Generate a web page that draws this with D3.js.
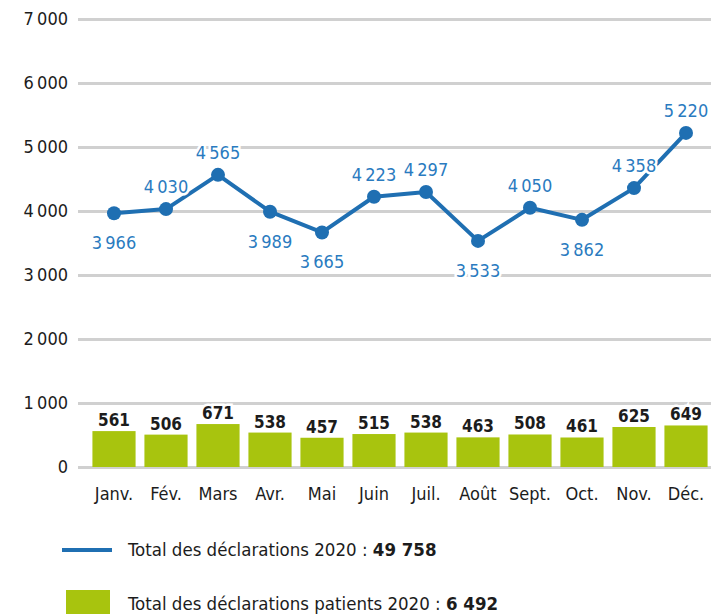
<!DOCTYPE html>
<html>
<head>
<meta charset="utf-8">
<script src="https://cdn.jsdelivr.net/npm/d3@7"></script>
<style>
  html, body { margin: 0; padding: 0; background: #fff; }
  svg { display: block; }
  text { font-family: "DejaVu Sans Condensed", "Liberation Sans Narrow", sans-serif; }
</style>
</head>
<body>
<div id="chart"></div>
<script>
// données 2020
const mois = ["Janv.", "Fév.", "Mars", "Avr.", "Mai", "Juin", "Juil.", "Août", "Sept.", "Oct.", "Nov.", "Déc."];
const totalDeclarations = [3966, 4030, 4565, 3989, 3665, 4223, 4297, 3533, 4050, 3862, 4358, 5220];
const declarationsPatients = [561, 506, 671, 538, 457, 515, 538, 463, 508, 461, 625, 649];
// position du libellé de la courbe : au-dessus (1) ou en dessous (-1)
const positionLibelle = [-1, 1, 1, -1, -1, 1, 1, -1, 1, -1, 1, 1];
const ticksY = [0, 1000, 2000, 3000, 4000, 5000, 6000, 7000];
const legende = [
  { texte: "Total des déclarations 2020 : ", total: "49 758", type: "ligne" },
  { texte: "Total des déclarations patients 2020 : ", total: "6 492", type: "barre" }
];

const W = 711, H = 616;
const bleu = "#1f6fb2", bleuTexte = "#2a7bc0", vert = "#a8c40e", gris = "#d0d0d0", sombre = "#1c1c1c";

const fmt = v => d3.format(",")(v).replace(/,/g, "\u2009");

const svg = d3.select("#chart").append("svg")
  .attr("width", W).attr("height", H);

const x = d3.scaleBand()
  .domain(mois)
  .range([88, 712])
  .paddingInner(0.17)
  .paddingOuter(0.085);

const y = d3.scaleLinear()
  .domain([0, 7000])
  .range([467, 19]);

// grille + axe Y
const axeY = svg.append("g")
  .attr("transform", "translate(78,0)")
  .call(d3.axisLeft(y).tickValues(ticksY).tickSize(-(W - 78)).tickPadding(10).tickFormat(fmt));
axeY.select(".domain").remove();
axeY.selectAll(".tick line").attr("stroke", gris).attr("stroke-width", 3);
axeY.selectAll(".tick text")
  .style("font-size", "18px").attr("fill", sombre);

// barres
svg.selectAll(".barre")
  .data(declarationsPatients)
  .join("rect")
  .attr("class", "barre")
  .attr("x", (d, i) => x(mois[i]))
  .attr("y", d => y(d))
  .attr("width", x.bandwidth())
  .attr("height", d => y(0) - y(d))
  .attr("fill", vert);

// valeurs des barres
svg.selectAll(".val-barre")
  .data(declarationsPatients)
  .join("text")
  .attr("class", "val-barre")
  .attr("x", (d, i) => x(mois[i]) + x.bandwidth() / 2)
  .attr("y", d => y(d) - 5)
  .attr("text-anchor", "middle")
  .style("font-size", "17px").style("font-weight", "bold")
  .attr("fill", sombre)
  .attr("stroke", "#fff").attr("stroke-width", 5).attr("paint-order", "stroke")
  .text(d => d);

// axe X (libellés)
const axeX = svg.append("g")
  .attr("transform", `translate(0,${y(0)})`)
  .call(d3.axisBottom(x).tickSize(0).tickPadding(20));
axeX.select(".domain").remove();
axeX.selectAll(".tick text").style("font-size", "18px").attr("fill", sombre);

// courbe
const cx = (d, i) => x(mois[i]) + x.bandwidth() / 2;
const ligne = d3.line().x(cx).y(d => y(d));

svg.append("path")
  .datum(totalDeclarations)
  .attr("d", ligne)
  .attr("fill", "none")
  .attr("stroke", bleu)
  .attr("stroke-width", 4)
  .attr("stroke-linejoin", "round");

svg.selectAll(".point")
  .data(totalDeclarations)
  .join("circle")
  .attr("class", "point")
  .attr("cx", cx)
  .attr("cy", d => y(d))
  .attr("r", 7)
  .attr("fill", bleu);

svg.selectAll(".val-ligne")
  .data(totalDeclarations)
  .join("text")
  .attr("class", "val-ligne")
  .attr("x", cx)
  .attr("y", (d, i) => y(d) + (positionLibelle[i] > 0 ? -16 : 36))
  .attr("text-anchor", "middle")
  .style("font-size", "18px")
  .attr("fill", bleuTexte)
  .attr("stroke", "#fff").attr("stroke-width", 5).attr("paint-order", "stroke")
  .text(d => fmt(d));

// légende
const leg = svg.append("g");
legende.forEach((l, i) => {
  const yy = 550 + i * 54;
  if (l.type === "ligne") {
    leg.append("line")
      .attr("x1", 62).attr("x2", 112).attr("y1", yy).attr("y2", yy)
      .attr("stroke", bleu).attr("stroke-width", 4);
  } else {
    leg.append("rect")
      .attr("x", 66).attr("y", yy - 14).attr("width", 44).attr("height", 24)
      .attr("fill", vert);
  }
  const t = leg.append("text")
    .attr("x", 128).attr("y", yy + 6)
    .style("font-size", "18.5px").attr("fill", sombre);
  t.append("tspan").text(l.texte);
  t.append("tspan").style("font-weight", "bold").text(l.total);
});
</script>
</body>
</html>
